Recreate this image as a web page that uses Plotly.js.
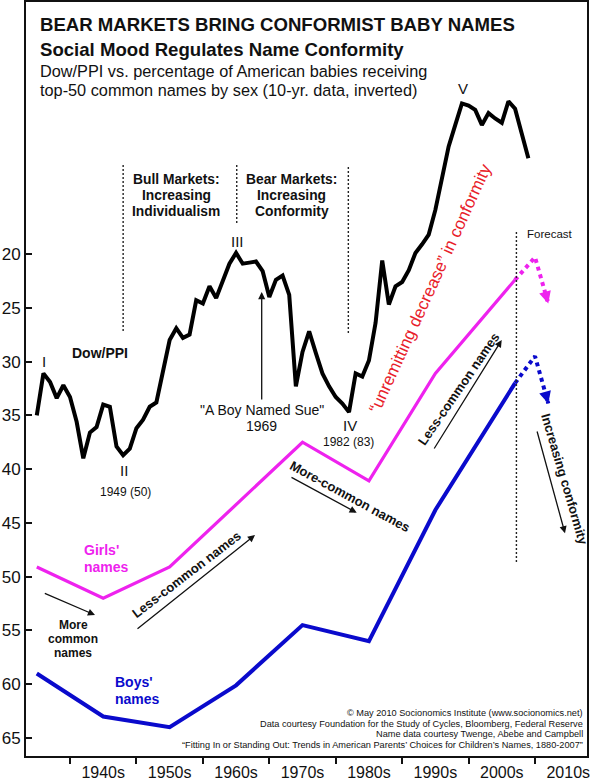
<!DOCTYPE html>
<html><head><meta charset="utf-8">
<script src="https://cdn.plot.ly/plotly-3.0.1.min.js"></script>
<style>html,body{margin:0;padding:0;background:#fff}#chart{width:590px;height:783px}</style>
</head><body><div id="chart"></div>
<script>
// ---------- data ----------
const dowYears = [1935,1936,1937,1938,1939,1940,1941,1942,1943,1944,1945,1946,1947,1948,1949,
  1950,1951,1952,1953,1954,1955,1956,1957,1958,1959,1960,1961,1962,1963,1964,1965,1966,1967,1968,1969,
  1970,1971,1972,1973,1974,1975,1976,1977,1978,1979,1980,1981,1982,1983,1984,1985,1986,1987,1988,1989,
  1990,1991,1992,1993,1994,1995,1996,1997,1998,1999,2000,2001,2002,2003,2004,2005,2006,2007,2008,2009];
const dowPPI = [35.0,31.1,31.9,33.4,32.2,33.3,35.6,39.0,36.6,36.1,34.0,34.2,37.9,38.7,38.1,
  36.2,35.4,34.2,33.8,31.1,28.0,26.9,27.8,27.5,24.3,24.6,23.0,24.1,22.6,20.9,19.9,20.9,20.8,20.7,21.6,
  24.0,22.4,22.0,23.8,32.3,29.1,27.2,29.2,31.1,32.3,33.3,33.9,34.7,31.1,31.4,29.9,26.4,20.6,24.7,23.0,
  22.6,21.5,19.9,19.1,18.2,15.9,13.1,10.0,8.0,6.0,6.2,6.6,8.0,6.9,7.4,7.8,5.8,6.5,8.8,11.1];

const decadeMid = [1935,1945,1955,1965,1975,1985,1995,2007];
const girlsPct  = [49.1,52.0,49.1,43.3,37.5,41.1,31.1,22.4];
const boysPct   = [59.0,63.0,64.0,60.1,54.5,56.0,43.8,32.0];

const forecastYears  = [2007,2010,2012];
const girlsForecast  = [22.4,20.3,24.6];
const boysForecast   = [32.0,29.5,33.9];

const decadeTicks  = [1945,1955,1965,1975,1985,1995,2005,2015];
const decadeLabels = ['1940s','1950s','1960s','1970s','1980s','1990s','2000s','2010s'];
const decadeBounds = [1940,1950,1960,1970,1980,1990,2000,2010];
const pctTicks = [20,25,30,35,40,45,50,55,60,65];

const phaseYears = [1948, 1965.1, 1981.9];
const forecastYear = 2007.2;

// ---------- helpers: pixel guides -> data coords ----------
const X = px => 1940 + (px - 70) / 6.643;
const Y = py => 20 + (py - 254) / 10.756;
const F = 'Liberation Sans, Arial, Helvetica, sans-serif';
const MAG = '#ee22ee', BLUE = '#0a0acc', RED = '#e8202a';

const ann = [];
function txt(text, px, py, size, o) {
  o = o || {};
  ann.push({x: X(px), y: Y(py), xref: 'x', yref: 'y', text: text, showarrow: false,
    font: {family: F, size: size, color: o.color || '#111'},
    xanchor: o.xanchor || 'center', yanchor: 'middle', textangle: o.angle || 0, align: o.align || 'center'});
}
function lines(arr, px, py, gap, size, o) { arr.forEach((t, i) => txt(t, px, py + i * gap, size, o)); }
function arrow(tx, ty, hx, hy, o) {
  o = o || {};
  ann.push({x: X(hx), y: Y(hy), ax: X(tx), ay: Y(ty), axref: 'x', ayref: 'y', xref: 'x', yref: 'y',
    text: '', showarrow: true, arrowhead: 2, arrowsize: o.size || 1.1, arrowwidth: o.width || 1.3,
    arrowcolor: o.color || '#111', standoff: 0, startstandoff: 0});
}
function headOnly(year, val, prevYear, prevVal, color) {
  const dx = (year - prevYear) * 6.643, dy = (val - prevVal) * 10.756;
  const L = Math.hypot(dx, dy);
  ann.push({x: year, y: val, xref: 'x', yref: 'y', text: '', showarrow: true,
    ax: -dx / L * 6, ay: -dy / L * 6, arrowhead: 2, arrowsize: 0.6, arrowwidth: 4,
    arrowcolor: color, standoff: 0, startstandoff: 0});
}

// titles
txt('<b>BEAR MARKETS BRING CONFORMIST BABY NAMES</b>', 38, 24, 18.6, {xanchor: 'left'});
txt('<b>Social Mood Regulates Name Conformity</b>', 38, 49.5, 18.6, {xanchor: 'left'});
txt('Dow/PPI vs. percentage of American babies receiving', 38, 70.5, 16.3, {xanchor: 'left'});
txt('top-50 common names by sex (10-yr. data, inverted)', 38, 89.5, 16.3, {xanchor: 'left'});

// wave labels
txt('V', 463, 88.5, 15);
txt('I', 44, 361, 15);
txt('II', 124, 470, 15);
txt('III', 237, 241, 15);
txt('IV', 350, 425, 15);
txt('1949 (50)', 125, 492, 12);
txt('1982 (83)', 348, 442, 12);
txt('<b>Dow/PPI</b>', 100, 353, 14);

lines(['<b>Bull Markets:</b>', '<b>Increasing</b>', '<b>Individualism</b>'], 176, 179.5, 15.8, 13.8);
lines(['<b>Bear Markets:</b>', '<b>Increasing</b>', '<b>Conformity</b>'], 291.5, 179.5, 15.8, 13.8);

txt('"A Boy Named Sue"', 261.7, 410, 14);
txt('1969', 261.7, 425.5, 14);
arrow(261.7, 401, 261.7, 292);

lines(["<b>Girls'</b>", '<b>names</b>'], 81.7, 550, 17, 14, {color: MAG, xanchor: 'left'});
lines(["<b>Boys'</b>", '<b>names</b>'], 113.3, 682, 16.5, 14, {color: BLUE, xanchor: 'left'});
lines(['<b>More</b>', '<b>common</b>', '<b>names</b>'], 73, 625, 13.8, 12);
arrow(43.3, 592.7, 95, 615);

txt('<b>Less-common names</b>', 186.5, 574.5, 13, {angle: -37.4});
arrow(136, 630, 255, 535);

txt('<b>More-common names</b>', 350, 496, 13, {angle: 28.5});
arrow(290, 476.5, 356.7, 512.7);

txt('<b>Less-common names</b>', 458, 389, 13, {angle: -55.5});
arrow(433.3, 450, 501.7, 340);

txt('<b>Increasing conformity</b>', 565, 479, 13, {angle: 73.6});
arrow(536.7, 430, 565, 533.3);

txt('\u201Cunremitting decrease\u201D in conformity', 430, 288, 17, {angle: -65.5, color: RED});

txt('Forecast', 549.5, 234, 11.5);

// footer credits
const credits = ['\u00A9 May 2010 Socionomics Institute (www.socionomics.net)',
  'Data courtesy Foundation for the Study of Cycles, Bloomberg, Federal Reserve',
  'Name data courtesy Twenge, Abebe and Campbell',
  '\u201CFitting In or Standing Out: Trends in American Parents\u2019 Choices for Children\u2019s Names, 1880-2007\u201D'];
lines(credits, 585, 713, 10.7, 9.2, {xanchor: 'right'});

headOnly(forecastYears[2], girlsForecast[2], forecastYears[1], girlsForecast[1], MAG);
headOnly(forecastYears[2], boysForecast[2], forecastYears[1], boysForecast[1], BLUE);

// shapes: phase dividers and forecast line
const shapes = [];
const dotLine = {color: '#222', width: 1.4, dash: '2px,2px'};
shapes.push({type: 'line', xref: 'x', yref: 'y', x0: phaseYears[0], x1: phaseYears[0], y0: Y(165), y1: Y(333), line: dotLine});
shapes.push({type: 'line', xref: 'x', yref: 'y', x0: phaseYears[1], x1: phaseYears[1], y0: Y(165), y1: Y(225), line: dotLine});
shapes.push({type: 'line', xref: 'x', yref: 'y', x0: phaseYears[2], x1: phaseYears[2], y0: Y(167), y1: Y(333), line: dotLine});
shapes.push({type: 'line', xref: 'x', yref: 'y', x0: forecastYear, x1: forecastYear, y0: Y(232), y1: Y(563), line: dotLine});

const traces = [
  {x: dowYears, y: dowPPI, type: 'scatter', mode: 'lines', line: {color: '#000', width: 4, shape: 'linear'}, name: 'Dow/PPI'},
  {x: decadeMid, y: girlsPct, type: 'scatter', mode: 'lines', line: {color: MAG, width: 3.2}, name: "Girls' names"},
  {x: decadeMid, y: boysPct, type: 'scatter', mode: 'lines', line: {color: BLUE, width: 4}, name: "Boys' names"},
  {x: forecastYears, y: girlsForecast, type: 'scatter', mode: 'lines', line: {color: MAG, width: 4, dash: 'dot'}, name: 'Girls forecast'},
  {x: forecastYears, y: boysForecast, type: 'scatter', mode: 'lines', line: {color: BLUE, width: 4, dash: 'dot'}, name: 'Boys forecast'}
];

const layout = {
  width: 590, height: 783,
  margin: {l: 26, r: 3, t: 2, b: 27, pad: 0},
  paper_bgcolor: '#fff', plot_bgcolor: '#fff',
  showlegend: false,
  font: {family: F, color: '#111'},
  xaxis: {
    range: [X(26), X(587)], showgrid: false, zeroline: false,
    showline: true, mirror: true, linecolor: '#111', linewidth: 2,
    tickmode: 'array', tickvals: decadeTicks, ticktext: decadeLabels,
    ticks: 'outside', ticklen: 1, tickcolor: 'rgba(0,0,0,0)',
    ticklabeloverflow: 'allow',
    tickfont: {family: F, size: 16, color: '#111'},
    minor: {tickmode: 'array', tickvals: decadeBounds, ticks: 'outside', ticklen: 6, tickwidth: 2, tickcolor: '#111', showgrid: false}
  },
  yaxis: {
    range: [Y(756), Y(2)], showgrid: false, zeroline: false,
    showline: true, mirror: true, linecolor: '#111', linewidth: 2,
    tickmode: 'array', tickvals: pctTicks, ticktext: pctTicks.map(String),
    ticks: 'inside', ticklen: 6, tickwidth: 2, tickcolor: '#111',
    ticklabeloverflow: 'allow',
    tickfont: {family: F, size: 17, color: '#111'}
  },
  annotations: ann,
  shapes: shapes
};

Plotly.newPlot('chart', traces, layout, {staticPlot: true, displayModeBar: false});
</script>
</body></html>
